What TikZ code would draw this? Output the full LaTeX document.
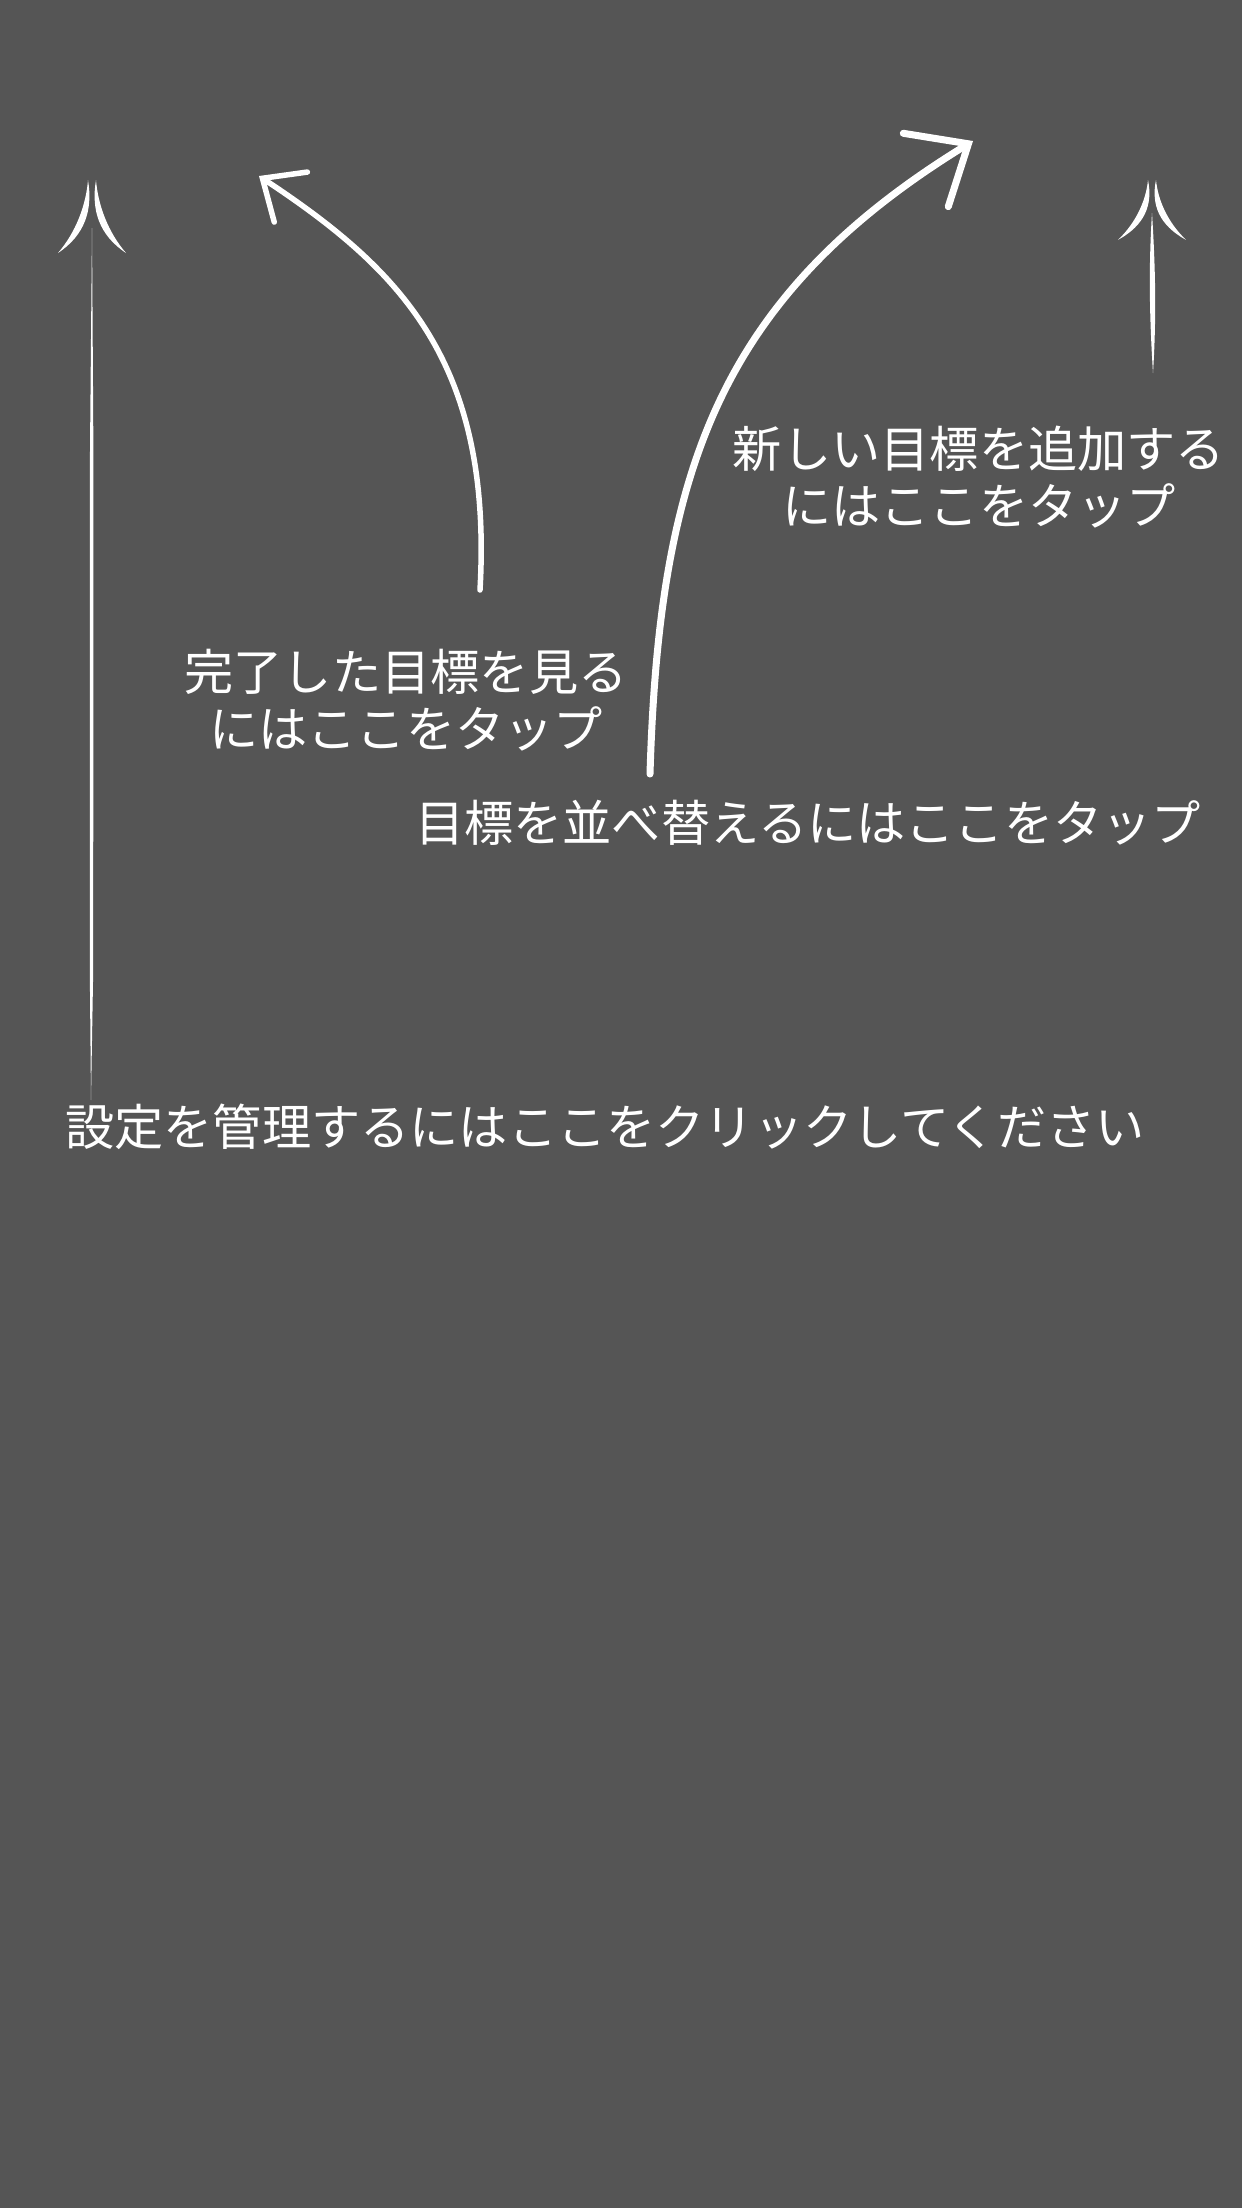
\documentclass[tikz,border=0pt]{standalone}
\usepackage{fontspec}
\setmainfont{Noto Sans CJK JP}
\usetikzlibrary{arrows.meta}
\definecolor{slate}{RGB}{85,85,85}

\begin{document}
\begin{tikzpicture}[x=0.1mm, y=-0.1mm,
  every node/.style={text=white, inner sep=0pt, outer sep=0pt, align=center, font=\fontsize{14pt}{16.2pt}\selectfont},
  chalk/.style={draw=white, line cap=round, line width=#1}]
\fill[slate] (0,0) rectangle (1242,2208);

% hints
\node (done) at (406,700) {完了した目標を見る\\にはここをタップ};
\node (add) at (979,477) {新しい目標を追加する\\にはここをタップ};
\node (sort) at (808,823) {目標を並べ替えるにはここをタップ};
\node (settings) at (605,1127) {設定を管理するにはここをクリックしてください};

% arrow ends
\coordinate (setFoot) at (91,1100);
\coordinate (setTop) at (92,228);
\coordinate (setTip) at (92,180);
\coordinate (doneFoot) at (480,590);
\coordinate (doneTip) at (259,176);
\coordinate (sortFoot) at (650,774);
\coordinate (sortTip) at (973,141);
\coordinate (addFoot) at (1153,373);
\coordinate (addTop) at (1152,213);
\coordinate (addTip) at (1152,180);

% curved arrows
\draw[chalk=0.55mm, -{Straight Barb[length=3.4mm, width=6mm, line cap=round]}] (doneFoot) .. controls (493,360) and (398,268) .. (doneTip);
\draw[chalk=0.7mm, -{Straight Barb[length=5mm, width=8.6mm, line cap=round]}] (sortFoot) .. controls (659,474) and (717,298) .. (sortTip);

% straight arrows
\fill[white] (setFoot) -- +(2.2,-130) -- +(2.4,-650) -- (setTop) -- +(-2,222) -- +(-2.2,742) -- cycle;
\fill[white] (addFoot) .. controls +(3.5,-55) and +(3.5,55) .. (addTop) .. controls +(-3.5,55) and +(-3.5,-55) .. (addFoot);
\begin{scope}[shift={(setTip)}]
\fill[white] (-4,0) .. controls (-6,25) and (-16,52) .. (-34,73) .. controls (-7,55) and (1,30) .. (-4,0);
\fill[white] (4,0) .. controls (6,25) and (16,52) .. (34,73) .. controls (7,55) and (-1,30) .. (4,0);
\end{scope}
\begin{scope}[shift={(addTip)}, yscale=0.82]
\fill[white] (-4,0) .. controls (-6,25) and (-16,52) .. (-34,73) .. controls (-7,55) and (1,30) .. (-4,0);
\fill[white] (4,0) .. controls (6,25) and (16,52) .. (34,73) .. controls (7,55) and (-1,30) .. (4,0);
\end{scope}
\end{tikzpicture}
\end{document}
